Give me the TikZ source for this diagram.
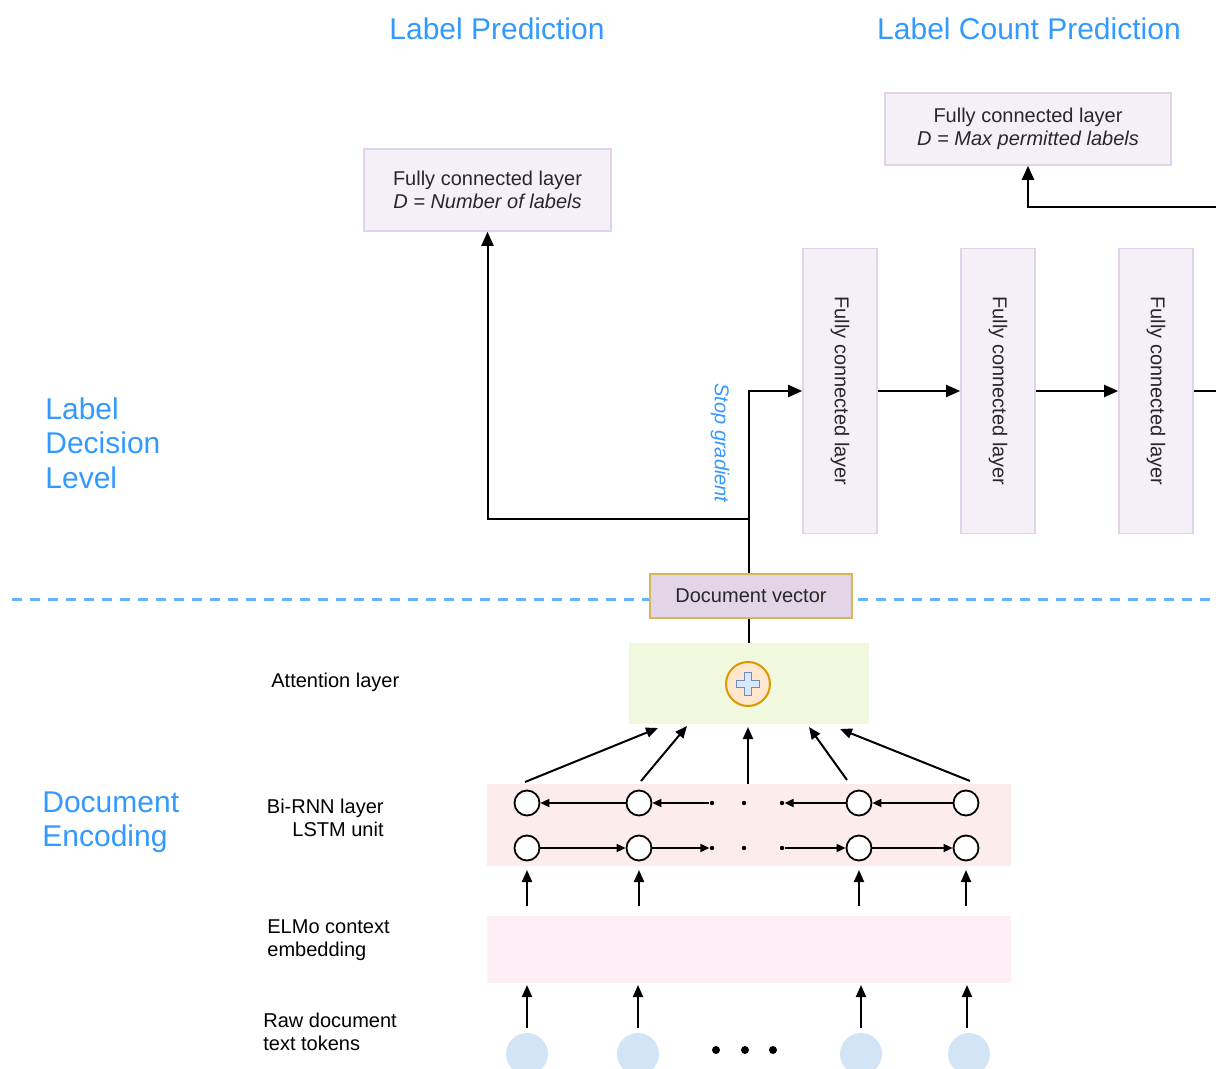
\documentclass[tikz,border=0pt]{standalone}
\usepackage{fontspec}
\setmainfont{Liberation Sans}
\usetikzlibrary{arrows.meta}
\definecolor{titleblue}{RGB}{51,153,255}
\definecolor{fcfill}{RGB}{245,240,248}
\definecolor{fcdraw}{RGB}{224,212,234}
\definecolor{dvfill}{RGB}{225,213,231}
\definecolor{dvdraw}{RGB}{214,182,86}
\definecolor{attfill}{RGB}{240,248,222}
\definecolor{rnnfill}{RGB}{253,236,236}
\definecolor{elmofill}{RGB}{255,238,245}
\definecolor{tokfill}{RGB}{212,228,247}
\definecolor{plusfill}{RGB}{218,232,252}
\definecolor{plusdraw}{RGB}{108,142,191}
\definecolor{circfill}{RGB}{255,230,204}
\definecolor{circdraw}{RGB}{215,155,0}
\definecolor{dashblue}{RGB}{102,178,255}
\definecolor{txt}{RGB}{40,40,40}
\begin{document}
\begin{tikzpicture}[x=0.5pt,y=-0.5pt,
  every node/.style={font=\fontsize{10}{11.5}\selectfont, text=txt},
  ttl/.style={font=\fontsize{15}{17.25}\selectfont, text=titleblue, inner sep=0pt, align=left},
  fcbox/.style={draw=fcdraw, fill=fcfill, line width=0.8pt, align=center, inner sep=0pt},
  arr/.style={draw=black, line width=1pt, -{Triangle[length=7pt,width=6pt]}},
  marr/.style={draw=black, line width=1pt, -{Triangle[length=6pt,width=5pt]}},
  ln/.style={draw=black, line width=1pt},
  sarr/.style={draw=black, line width=0.9pt, -{Triangle[length=4.5pt,width=4pt]}},
  cell/.style={circle, draw=black, line width=0.9pt, fill=white, minimum size=12.5pt, inner sep=0pt},
  dotn/.style={circle, fill=black, minimum size=2.2pt, inner sep=0pt},
  bigdot/.style={circle, fill=black, minimum size=4pt, inner sep=0pt},
  tok/.style={circle, fill=tokfill, minimum size=21pt, inner sep=0pt},
  lbl/.style={inner sep=0pt, align=left, text=black}
]
\useasboundingbox (0,0) rectangle (1216,1069);

% titles
\node[ttl] (t1) at (497,29) {Label Prediction};
\node[ttl] (t2) at (1029,29) {Label Count Prediction};
\node[ttl, anchor=west] (t3) at (45,443) {Label\\Decision\\Level};
\node[ttl, anchor=west] (t4) at (42,822.5) {Document\\Encoding};

% left small labels
\node[lbl, anchor=west] (la) at (271,682) {Attention layer};
\node[lbl, anchor=east, align=right] (lb) at (384,817.5) {Bi-RNN layer\\LSTM unit};
\node[lbl, anchor=west] (le) at (267,940.5) {ELMo context\\embedding};
\node[lbl, anchor=west] (lr) at (263,1031.5) {Raw document\\text tokens};

% top boxes
\node[fcbox, minimum width=123.5pt, minimum height=41pt] (lp) at (487.5,190) {Fully connected layer\\\textit{D = Number of labels}};
\node[fcbox, minimum width=143pt, minimum height=36pt] (lcp) at (1028,129) {Fully connected layer\\\textit{D = Max permitted labels}};

% vertical fc boxes
\node[fcbox, minimum width=37pt, minimum height=142.5pt] (fc1) at (840,391) {};
\node[fcbox, minimum width=37pt, minimum height=142.5pt] (fc2) at (998,391) {};
\node[fcbox, minimum width=37pt, minimum height=142.5pt] (fc3) at (1156,391) {};
\node[rotate=-90, inner sep=0pt] (fc1t) at (fc1) {Fully connected layer};
\node[rotate=-90, inner sep=0pt] (fc2t) at (fc2) {Fully connected layer};
\node[rotate=-90, inner sep=0pt] (fc3t) at (fc3) {Fully connected layer};

\coordinate (out1) at (1216,391);
\coordinate (out2) at (1216,207);

% dashed separator
\coordinate (dl) at (12,599);
\coordinate (dr) at (1216,599);
\draw[dashblue, line width=1.5pt, dash pattern=on 5pt off 4pt] (dl) -- (dr);

% document vector
\node[draw=dvdraw, fill=dvfill, line width=0.9pt, minimum width=101pt, minimum height=22pt, inner sep=0pt] (dv) at (751,596) {Document vector};

% attention
\node[fill=attfill, minimum width=120pt, minimum height=40.5pt, inner sep=0pt] (att) at (748.5,683.5) {};
\node[circle, draw=circdraw, fill=circfill, line width=1pt, minimum size=22pt, inner sep=0pt] (sum) at (748,684) {};
\begin{scope}[shift={(sum.center)}]
\draw[draw=plusdraw, fill=plusfill, line width=0.8pt]
 (-3.5,-11.5) -- (3.5,-11.5) -- (3.5,-3.5) -- (11.5,-3.5) -- (11.5,3.5) -- (3.5,3.5) -- (3.5,11.5) -- (-3.5,11.5) -- (-3.5,3.5) -- (-11.5,3.5) -- (-11.5,-3.5) -- (-3.5,-3.5) -- cycle;
\end{scope}

% connectors top
\coordinate (split) at (748.5,519);
\coordinate (turn) at (748.5,391);
\draw[arr] (turn |- dv.north) -- (turn) -- (fc1.west);
\draw[arr] (split) -| (lp.south);
\draw[arr] (fc1.east) -- (fc2.west);
\draw[arr] (fc2.east) -- (fc3.west);
\draw[ln] (fc3.east) -- (out1);
\draw[arr] (out2) -| (lcp.south);
\draw[ln] (turn |- dv.south) -- (att.north);

\node[rotate=-90, inner sep=0pt, text=titleblue, font=\fontsize{10}{11.5}\selectfont\itshape] (sg) at (720,443) {Stop gradient};

% Bi-RNN
\node[fill=rnnfill, minimum width=262pt, minimum height=41pt, inner sep=0pt] (rnn) at (749,825) {};
\foreach \i/\x in {1/527,2/639,3/859,4/966}{
  \node[cell] (b\i) at (\x,803) {};
  \node[cell] (f\i) at (\x,848) {};
}
\node[dotn] (bd1) at (712,803) {};
\node[dotn] (bd2) at (744,803) {};
\node[dotn] (bd3) at (782,803) {};
\node[dotn] (fd1) at (712,848) {};
\node[dotn] (fd2) at (744,848) {};
\node[dotn] (fd3) at (782,848) {};
\draw[sarr] (b2) -- (b1);
\draw[sarr] (bd1) -- (b2);
\draw[sarr] (b3) -- (bd3);
\draw[sarr] (b4) -- (b3);
\draw[sarr] (f1) -- (f2);
\draw[sarr] (f2) -- (fd1);
\draw[sarr] (fd3) -- (f3);
\draw[sarr] (f3) -- (f4);

% arrows to attention
\coordinate (r1) at (525,782); \coordinate (a1) at (658,728);
\coordinate (r2) at (641,781); \coordinate (a2) at (687,726);
\coordinate (r3) at (748,784); \coordinate (a3) at (748,727);
\coordinate (r4) at (847,780); \coordinate (a4) at (809,727);
\coordinate (r5) at (970,781); \coordinate (a5) at (840,729);
\foreach \i in {1,...,5}{ \draw[marr] (r\i) -- (a\i); }

% ELMo
\node[fill=elmofill, minimum width=262pt, minimum height=33.5pt, inner sep=0pt] (elmo) at (749,949.5) {};

% tokens
\node[tok] (k1) at (527,1054) {};
\node[tok] (k2) at (638,1054) {};
\node[tok] (k3) at (861,1054) {};
\node[tok] (k4) at (969,1054) {};
\node[bigdot] (e1) at (716,1050) {};
\node[bigdot] (e2) at (745,1050) {};
\node[bigdot] (e3) at (773,1050) {};

\foreach \i/\x in {1/527,2/639,3/859,4/966}{
  \coordinate (eu\i) at (\x,906);
  \coordinate (ru\i) at (\x,870);
  \draw[marr] (eu\i) -- (ru\i);
}
\foreach \i/\x in {1/527,2/638,3/861,4/967}{
  \coordinate (ku\i) at (\x,1028);
  \coordinate (el\i) at (\x,985);
  \draw[marr] (ku\i) -- (el\i);
}
\end{tikzpicture}
\end{document}
